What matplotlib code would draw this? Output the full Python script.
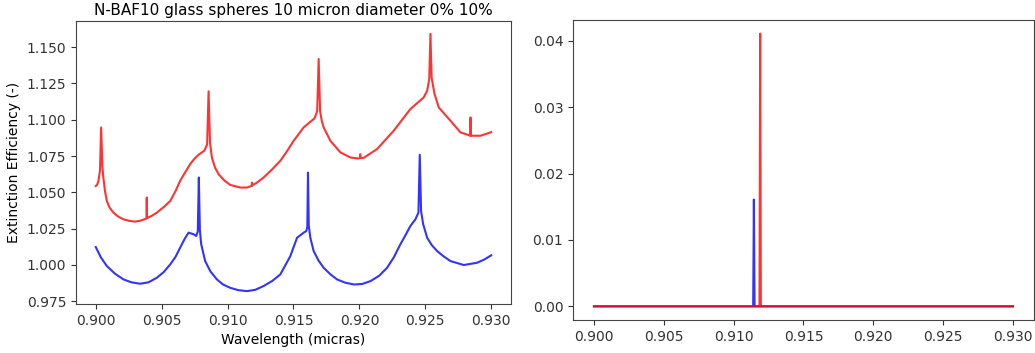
import matplotlib
matplotlib.use("Agg")
import matplotlib.pyplot as plt

# 10% curve (red)
red_wl = [0.90000, 0.90010, 0.90020, 0.90032, 0.90041, 0.90050, 0.90058, 0.90070, 0.90084,
          0.90105, 0.90134, 0.90170, 0.90210, 0.90255, 0.90299, 0.90340, 0.90386, 0.90387,
          0.90388, 0.90425, 0.90463, 0.90515, 0.90565, 0.90605, 0.90640, 0.90680, 0.90716,
          0.90750, 0.90780, 0.90823, 0.90845, 0.90856, 0.90867, 0.90881, 0.90905, 0.90932,
          0.90975, 0.91020, 0.91096, 0.91147, 0.91184, 0.91185, 0.91186, 0.91220, 0.91273,
          0.91340, 0.91400, 0.91450, 0.91501, 0.91577, 0.91620, 0.91660, 0.91680, 0.91691,
          0.91702, 0.91715, 0.91729, 0.91780, 0.91856, 0.91932, 0.91990, 0.92005, 0.92006,
          0.92007, 0.92033, 0.92134, 0.92260, 0.92387, 0.92488, 0.92514, 0.92530, 0.92539,
          0.92548, 0.92570, 0.92602, 0.92691, 0.92767, 0.92842, 0.92843, 0.92844, 0.92919,
          0.92995, 0.93000]
red_q = [1.0543, 1.0552, 1.0575, 1.0650, 1.0947, 1.0680, 1.0600, 1.0510, 1.0440,
         1.0395, 1.0360, 1.0333, 1.0314, 1.0303, 1.0298, 1.0305, 1.0320, 1.0464,
         1.0322, 1.0338, 1.0360, 1.0398, 1.0440, 1.0508, 1.0579, 1.0640, 1.0694,
         1.0733, 1.0759, 1.0786, 1.0830, 1.1196, 1.0840, 1.0740, 1.0670, 1.0625,
         1.0582, 1.0551, 1.0533, 1.0533, 1.0545, 1.0567, 1.0548, 1.0565, 1.0602,
         1.0660, 1.0717, 1.0782, 1.0855, 1.0947, 1.0980, 1.1010, 1.1060, 1.1419,
         1.1060, 1.0990, 1.0947, 1.0855, 1.0775, 1.0740, 1.0733, 1.0736, 1.0763,
         1.0736, 1.0738, 1.0798, 1.0924, 1.1074, 1.1154, 1.1200, 1.1280, 1.1592,
         1.1290, 1.1178, 1.1085, 1.0993, 1.0913, 1.0890, 1.1016, 1.0890, 1.0890,
         1.0913, 1.0915]

# 0% curve (blue)
blue_wl = [0.90000, 0.90040, 0.90084, 0.90145, 0.90210, 0.90270, 0.90337, 0.90400, 0.90463,
           0.90515, 0.90565, 0.90605, 0.90640, 0.90675, 0.90704, 0.90742, 0.90762, 0.90774,
           0.90782, 0.90790, 0.90800, 0.90830, 0.90870, 0.90919, 0.90965, 0.91020, 0.91080,
           0.91147, 0.91210, 0.91273, 0.91340, 0.91400, 0.91476, 0.91527, 0.91577, 0.91597,
           0.91605, 0.91610, 0.91616, 0.91628, 0.91653, 0.91690, 0.91729, 0.91780, 0.91830,
           0.91890, 0.91957, 0.92020, 0.92084, 0.92150, 0.92210, 0.92260, 0.92311, 0.92350,
           0.92387, 0.92425, 0.92448, 0.92458, 0.92468, 0.92484, 0.92514, 0.92550, 0.92590,
           0.92640, 0.92691, 0.92792, 0.92894, 0.92950, 0.93000]
blue_q = [1.0123, 1.0050, 0.9992, 0.9940, 0.9900, 0.9880, 0.9870, 0.9880, 0.9911,
          0.9950, 1.0003, 1.0055, 1.0118, 1.0180, 1.0222, 1.0211, 1.0199, 1.0230,
          1.0602, 1.0240, 1.0142, 1.0026, 0.9955, 0.9900, 0.9865, 0.9842, 0.9826,
          0.9819, 0.9828, 0.9854, 0.9890, 0.9934, 1.0060, 1.0187, 1.0222, 1.0233,
          1.0260, 1.0636, 1.0270, 1.0187, 1.0095, 1.0030, 0.9980, 0.9935, 0.9900,
          0.9878, 0.9865, 0.9868, 0.9888, 0.9925, 0.9980, 1.0050, 1.0142, 1.0205,
          1.0268, 1.0314, 1.0360, 1.0759, 1.0370, 1.0280, 1.0187, 1.0135, 1.0095,
          1.0058, 1.0026, 0.9999, 1.0015, 1.0038, 1.0066]

# right panel spikes
diff_blue_wl = [0.90000, 0.91140, 0.91145, 0.91150, 0.93000]
diff_blue = [0.0, 0.0, 0.0161, 0.0, 0.0]
diff_red_wl = [0.90000, 0.91185, 0.91190, 0.91195, 0.93000]
diff_red = [0.0, 0.0, 0.0411, 0.0, 0.0]

xticks = [0.900, 0.905, 0.910, 0.915, 0.920, 0.925, 0.930]
yticks_left = [0.975, 1.000, 1.025, 1.050, 1.075, 1.100, 1.125, 1.150]
yticks_right = [0.00, 0.01, 0.02, 0.03, 0.04]

fig = plt.figure(figsize=(10.35, 3.53), dpi=100)
ax1 = fig.add_axes([0.0734, 0.1388, 0.4203, 0.8017])
ax2 = fig.add_axes([0.5536, 0.0935, 0.4454, 0.8499])

ax1.plot(blue_wl, blue_q, color="b", alpha=0.8, lw=1.5)
ax1.plot(red_wl, red_q, color="r", alpha=0.8, lw=1.5)
ax1.set_title("N-BAF10 glass spheres 10 micron diameter 0% 10%", fontsize=11, pad=4)
ax1.set_xlabel("Wavelength (micras)")
ax1.set_ylabel("Extinction Efficiency (-)")
ax1.set_xticks(xticks)
ax1.set_xticklabels([f"{t:.3f}" for t in xticks])
ax1.set_yticks(yticks_left)
ax1.set_yticklabels([f"{t:.3f}" for t in yticks_left])

ax2.plot(diff_blue_wl, diff_blue, color="b", alpha=0.8, lw=1.5)
ax2.plot(diff_red_wl, diff_red, color="r", alpha=0.8, lw=1.5)
ax2.set_xticks(xticks)
ax2.set_xticklabels([f"{t:.3f}" for t in xticks])
ax2.set_yticks(yticks_right)
ax2.set_yticklabels([f"{t:.2f}" for t in yticks_right])

for ax in (ax1, ax2):
    for s in ax.spines.values():
        s.set_color("#444444")
    ax.tick_params(colors="#333333")

fig.savefig("out.png", dpi=100)
